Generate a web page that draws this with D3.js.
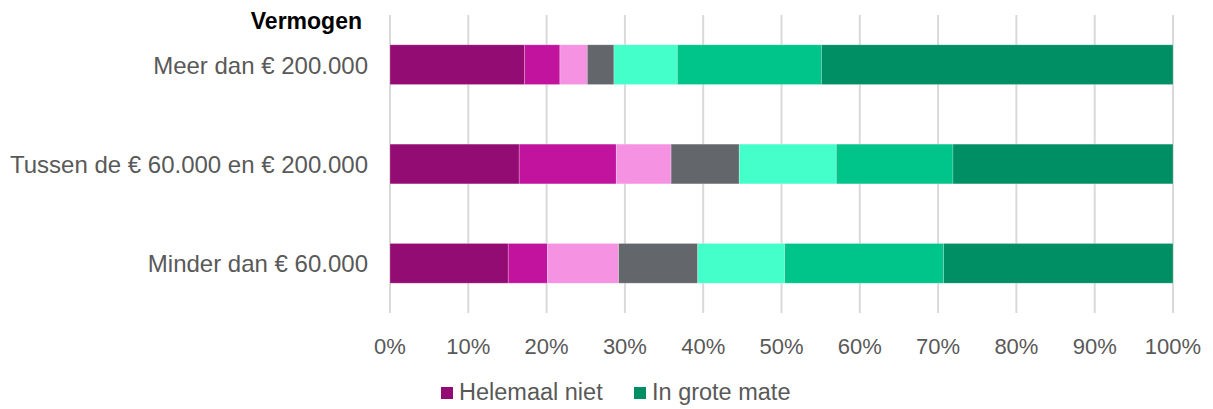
<!DOCTYPE html>
<html>
<head>
<meta charset="utf-8">
<script src="https://cdn.jsdelivr.net/npm/d3@7"></script>
<style>
  body { margin: 0; background: #fff; }
  text { font-family: "Liberation Sans", Arial, sans-serif; }
</style>
</head>
<body>
<div id="chart"></div>
<script>
// categories, top to bottom
var categories = ["Meer dan € 200.000", "Tussen de € 60.000 en € 200.000", "Minder dan € 60.000"];

// answer scale, from "Helemaal niet" (1) to "In grote mate" (7)
var keys = ["Helemaal niet", "2", "3", "4", "5", "6", "In grote mate"];
var legendKeys = ["Helemaal niet", "In grote mate"];

// percentage per category, one list per answer
var s1 = [17.2, 16.5, 15.1];
var s2 = [4.5, 12.4, 5.0];
var s3 = [3.5, 7.0, 9.1];
var s4 = [3.4, 8.7, 10.1];
var s5 = [8.1, 12.4, 11.1];
var s6 = [18.4, 14.9, 20.3];
var s7 = [44.9, 28.1, 29.3];

var ticks = [0, 10, 20, 30, 40, 50, 60, 70, 80, 90, 100];
var colors = ["#920c73", "#c2139f", "#f592e2", "#63666a", "#44ffca", "#00c58b", "#008f65"];

var W = 1213, H = 409;
var margin = { top: 15, right: 40, bottom: 96, left: 390 };
var width = 1173 - margin.left;
var height = H - margin.top - margin.bottom;

var svg = d3.select("#chart").append("svg")
    .attr("width", W)
    .attr("height", H);

var g = svg.append("g")
    .attr("transform", "translate(" + margin.left + "," + margin.top + ")");

var series = [s1, s2, s3, s4, s5, s6, s7];
var table = categories.map(function(c, i) {
    var row = { cat: c };
    keys.forEach(function(k, j) { row[k] = series[j][i]; });
    return row;
});

var x = d3.scaleLinear().domain([0, 100]).range([0, width]);
var y = d3.scaleBand().domain(categories).range([0, height])
    .paddingInner(0.6).paddingOuter(0.3);
var z = d3.scaleOrdinal().domain(keys).range(colors);

// gridlines
g.selectAll(".grid")
    .data(ticks)
    .enter().append("line")
    .attr("x1", function(d) { return x(d); })
    .attr("x2", function(d) { return x(d); })
    .attr("y1", 0)
    .attr("y2", height)
    .style("stroke", "#d9d9d9")
    .style("stroke-width", 2);

var stack = d3.stack().keys(keys);

var layer = g.selectAll(".layer")
    .data(stack(table))
    .enter().append("g")
    .attr("class", "layer")
    .style("fill", function(d) { return z(d.key); });

layer.selectAll("rect")
    .data(function(d) { return d; })
    .enter().append("rect")
    .attr("x", function(d) { return x(d[0]); })
    .attr("width", function(d) { return x(d[1]) - x(d[0]); })
    .attr("y", function(d) { return y(d.data.cat); })
    .attr("height", y.bandwidth())
    .style("stroke", "#ffffff")
    .style("stroke-opacity", 0.3)
    .style("stroke-width", 0.75);

// category labels
g.selectAll(".cat")
    .data(categories)
    .enter().append("text")
    .attr("x", -22)
    .attr("y", function(d) { return y(d) + y.bandwidth() / 2; })
    .attr("dy", "0.38em")
    .style("text-anchor", "end")
    .style("font-size", "24px")
    .style("fill", "#595959")
    .text(function(d) { return d; });

// x tick labels
g.selectAll(".tick-label")
    .data(ticks)
    .enter().append("text")
    .attr("x", function(d) { return x(d); })
    .attr("y", 339)
    .style("text-anchor", "middle")
    .style("font-size", "22px")
    .style("fill", "#595959")
    .text(function(d) { return d + "%"; });

// axis title
svg.append("text")
    .attr("x", 362)
    .attr("y", 29)
    .style("text-anchor", "end")
    .style("font-size", "23px")
    .style("font-weight", "bold")
    .style("fill", "#000")
    .text("Vermogen");

// legend
var legendX = [441, 634];
var legend = svg.selectAll(".legend")
    .data(legendKeys)
    .enter().append("g")
    .attr("transform", function(d, i) { return "translate(" + legendX[i] + ",387)"; });

legend.append("rect")
    .attr("width", 12)
    .attr("height", 12)
    .style("fill", function(d) { return z(d); });

legend.append("text")
    .attr("x", 18)
    .attr("y", 12.5)
    .style("font-size", "23.5px")
    .style("fill", "#595959")
    .text(function(d) { return d; });
</script>
</body>
</html>
